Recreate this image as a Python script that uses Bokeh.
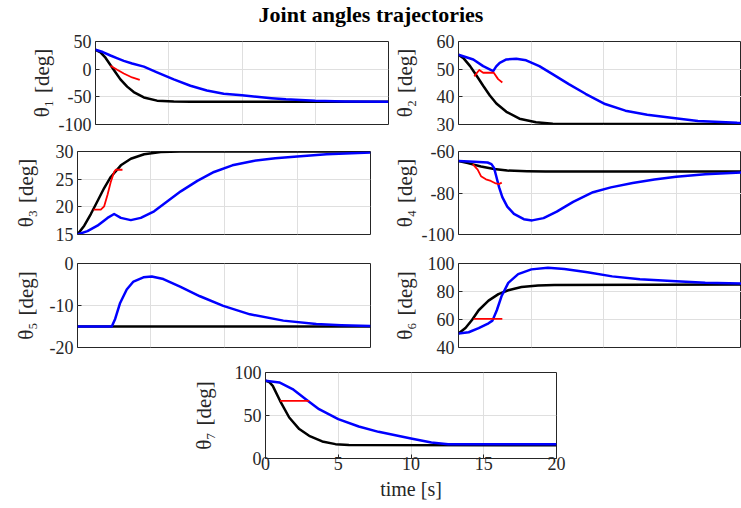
from bokeh.plotting import figure
from bokeh.models import Range1d, FixedTicker, Spacer, Label
from bokeh.layouts import column, row
from bokeh.embed import file_html
from bokeh.resources import INLINE

FONT = "Liberation Serif"

title_text = "Joint angles trajectories"
x_ticks = [0, 5, 10, 15, 20]
x_tick_labels = ["0", "5", "10", "15", "20"]

# ---------- joint 1 ----------
y1_ticks = [-100, -50, 0, 50]
y1_tick_labels = ["-100", "-50", "0", "50"]
t1_ref = [0, 0.34, 0.68, 1.02, 1.36, 1.7, 2.16, 2.61, 3.3, 4.2, 5.34, 6.5, 20]
q1_ref = [35, 30.5, 20.7, 7.5, -5.7, -18.4, -31.6, -41.4, -51.1, -56.9, -58.6, -59, -59]
t1_act = [0, 0.5, 1.02, 1.5, 1.93, 2.5, 3.3, 4.2, 5.34, 6.48, 7.6, 8.75, 10, 11, 12, 13, 15, 17, 20]
q1_act = [35, 31, 24.7, 19.5, 15, 10.3, 4.6, -5.7, -18.4, -29.9, -38.5, -44.3, -47, -50, -52.5, -54.5, -57, -58.3, -59]
t1_red = [1.02, 1.48, 1.93, 2.5, 3.02]
q1_red = [6.3, -1.1, -7.9, -15, -19.5]

# ---------- joint 2 ----------
y2_ticks = [30, 40, 50, 60]
y2_tick_labels = ["30", "40", "50", "60"]
t2_ref = [0, 0.34, 0.8, 1.25, 1.7, 2.16, 2.61, 3.3, 4.2, 5.34, 6.5, 8, 20]
q2_ref = [55.2, 54, 51.1, 47.6, 44, 40.5, 37.6, 34.6, 32.1, 30.8, 30.3, 30.2, 30.2]
t2_act = [0, 1.02, 1.7, 2.39, 2.6, 2.84, 3.3, 3.98, 4.66, 5.57, 6.48, 7.6, 8.75, 10.1, 11.5, 13, 14.66, 16.5, 19.2, 20]
q2_act = [55.2, 53.5, 51.1, 49.3, 51, 52.3, 53.5, 53.8, 53.2, 51.1, 48.2, 44.6, 41.1, 37.4, 35, 33.5, 32.4, 31.3, 30.6, 30.5]
t2_red = [1.09, 1.25, 1.43, 1.7, 2.05, 2.43, 2.73, 3.02]
q2_red = [47.4, 48.5, 49.7, 48.7, 48.7, 48.7, 46.4, 45.2]

# ---------- joint 3 ----------
y3_ticks = [15, 20, 25, 30]
y3_tick_labels = ["15", "20", "25", "30"]
t3_ref = [0, 0.46, 0.91, 1.36, 1.82, 2.27, 2.96, 3.64, 4.55, 5.68, 7, 20]
q3_ref = [15, 16.6, 18.7, 21, 23.4, 25.4, 27.5, 28.7, 29.5, 29.9, 30, 30]
t3_act = [0, 0.68, 1.36, 2.05, 2.5, 2.96, 3.64, 4.32, 5.23, 6.14, 7.05, 8.18, 9.32, 10.57, 12, 13.5, 15, 17, 20]
q3_act = [15, 15.6, 16.6, 18, 18.7, 18, 17.6, 18, 19.2, 21, 22.8, 24.7, 26.3, 27.5, 28.3, 28.8, 29.1, 29.5, 29.8]
t3_red = [1.09, 1.59, 1.82, 2.05, 2.27, 2.5, 2.61, 3.07]
q3_red = [19.5, 19.5, 20.1, 22.2, 24.5, 26.3, 26.7, 26.7]

# ---------- joint 4 ----------
y4_ticks = [-100, -80, -60]
y4_tick_labels = ["-100", "-80", "-60"]
t4_ref = [0, 0.64, 1.55, 2.45, 3.36, 4.72, 6, 20]
q4_ref = [-64.6, -65.6, -67.2, -68.4, -69.2, -69.5, -69.6, -69.6]
t4_act = [0, 1.09, 2.0, 2.27, 2.45, 2.57, 2.8, 3.02, 3.36, 3.82, 4.5, 5.07, 5.86, 6.77, 7.9, 9.27, 10.5, 12, 13.5, 15, 17, 20]
q4_act = [-64.6, -64.9, -65.3, -66.1, -67.9, -71.1, -77.3, -82, -86.6, -90.1, -92.6, -93.2, -92.1, -89, -84.3, -79.6, -77.3, -75.2, -73.5, -72.2, -71, -70]
t4_red = [0.98, 1.32, 1.55, 1.89, 2.23, 2.57, 2.8, 2.98]
q4_red = [-66.1, -68.7, -71.9, -73.4, -74.2, -75.4, -75.7, -75]

# ---------- joint 5 ----------
y5_ticks = [-20, -10, 0]
y5_tick_labels = ["-20", "-10", "0"]
t5_ref = [0, 20]
q5_ref = [-15, -15]
t5_act = [0, 2.34, 2.57, 2.91, 3.36, 3.82, 4.5, 5.07, 5.86, 7.0, 8.36, 9.95, 11.77, 14.05, 16.3, 18, 20]
q5_act = [-15, -15, -13.2, -9.4, -6.2, -4.3, -3.3, -3.1, -3.7, -5.5, -7.8, -10.1, -12.1, -13.6, -14.4, -14.7, -14.9]
t5_red = []
q5_red = []

# ---------- joint 6 ----------
y6_ticks = [40, 60, 80, 100]
y6_tick_labels = ["40", "60", "80", "100"]
t6_ref = [0, 0.48, 0.93, 1.39, 2.07, 2.75, 3.43, 4.34, 5.48, 6.6, 20]
q6_ref = [50, 53.9, 59.7, 66.6, 73.5, 78.1, 80.9, 83.2, 84.3, 84.7, 85]
t6_act = [0, 0.7, 1.39, 2.07, 2.34, 2.64, 2.98, 3.43, 4.11, 5.02, 6.16, 7.3, 8.89, 10.59, 12.5, 15, 17, 20]
q6_act = [50, 50.9, 53.9, 57.3, 59.2, 66.6, 77, 86.2, 92.4, 95.8, 97, 96.1, 93.8, 90.8, 88.7, 87.3, 86.3, 85.5]
t6_red = [1.04, 3.02]
q6_red = [60.5, 60.5]

# ---------- joint 7 ----------
y7_ticks = [0, 50, 100]
y7_tick_labels = ["0", "50", "100"]
t7_ref = [0, 0.25, 0.5, 1.0, 1.63, 2.32, 3.0, 3.9, 4.81, 5.73, 20]
q7_ref = [90.5, 89, 84.5, 67.1, 47.7, 34.2, 26.4, 19.8, 16.7, 15.6, 15.5]
t7_act = [0, 0.95, 1.86, 2.77, 3.68, 5.0, 6.41, 7.77, 10, 11.4, 12.55, 20]
q7_act = [90.5, 88.4, 80.7, 69, 57.4, 45.8, 37.2, 31, 23.3, 18.6, 16.7, 16.5]
t7_red = [1.0, 3.0]
q7_red = [67, 67]


def make_panel(label, yr, yticks, ylabels, t_ref, q_ref, t_act, q_act, t_red, q_red,
               width, height, mbl, mbr, mbt, mbb, x_end, label_standoff, show_x=False):
    p = figure(width=width, height=height,
               x_range=Range1d(0, x_end), y_range=Range1d(yr[0], yr[1]),
               output_backend="svg", toolbar_location=None,
               min_border_left=mbl, min_border_right=mbr,
               min_border_top=mbt, min_border_bottom=mbb)
    p.background_fill_color = "white"
    p.border_fill_color = "white"
    p.outline_line_color = "#262626"
    p.outline_line_width = 1

    p.xgrid.ticker = FixedTicker(ticks=x_ticks)
    p.ygrid.ticker = FixedTicker(ticks=yticks)
    p.xgrid.grid_line_color = "#dfdfdf"
    p.ygrid.grid_line_color = "#dfdfdf"

    ya = p.yaxis[0]
    ya.ticker = FixedTicker(ticks=yticks)
    ya.major_label_overrides = {v: s for v, s in zip(yticks, ylabels)}
    ya.major_label_text_font = FONT
    ya.major_label_text_font_size = "18px"
    ya.major_label_text_color = "#262626"
    ya.major_label_standoff = 4
    ya.major_tick_in = 4
    ya.major_tick_out = 0
    ya.major_tick_line_color = "#262626"
    ya.minor_tick_line_color = None
    ya.axis_line_color = None
    ya.axis_label = label
    ya.axis_label_text_font = FONT
    ya.axis_label_text_font_size = "21px"
    ya.axis_label_text_font_style = "normal"
    ya.axis_label_text_color = "#262626"
    ya.axis_label_standoff = label_standoff

    xa = p.xaxis[0]
    xa.ticker = FixedTicker(ticks=x_ticks)
    if show_x:
        xa.major_label_overrides = {v: s for v, s in zip(x_ticks, x_tick_labels)}
        xa.major_label_text_font = FONT
        xa.major_label_text_font_size = "18px"
        xa.major_label_text_color = "#262626"
        xa.major_label_standoff = -2
        xa.major_tick_in = 4
        xa.major_tick_out = 0
        xa.major_tick_line_color = "#262626"
        xa.minor_tick_line_color = None
        xa.axis_line_color = None
        xa.axis_label = "time [s]"
        xa.axis_label_text_font = FONT
        xa.axis_label_text_font_size = "20px"
        xa.axis_label_text_font_style = "normal"
        xa.axis_label_text_color = "#262626"
        xa.axis_label_standoff = 5
    else:
        xa.visible = False

    p.line(t_ref, q_ref, line_color="black", line_width=2.5, line_join="round")
    p.line(t_act, q_act, line_color="#0000ff", line_width=2.5, line_join="round")
    if len(t_red):
        p.line(t_red, q_red, line_color="#ff0000", line_width=1.8, line_join="round")
    return p


XR = 19.5  # right column is cropped by the window edge, as in the reference
SP = "\u2004"

p1 = make_panel("θ₁" + SP + "[deg]", (-100, 50), y1_ticks, y1_tick_labels, t1_ref, q1_ref, t1_act, q1_act, t1_red, q1_red,
                389, 110, 95, 1, 11, 13, 20, 2)
p2 = make_panel("θ₂" + SP + "[deg]", (30, 60), y2_ticks, y2_tick_labels, t2_ref, q2_ref, t2_act, q2_act, t2_red, q2_red,
                352, 110, 66, 0, 14, 11, XR, 17)
p3 = make_panel("θ₃" + SP + "[deg]", (15, 30), y3_ticks, y3_tick_labels, t3_ref, q3_ref, t3_act, q3_act, t3_red, q3_red,
                389, 111, 77, 19, 14, 12, 20, 15)
p4 = make_panel("θ₄" + SP + "[deg]", (-100, -60), y4_ticks, y4_tick_labels, t4_ref, q4_ref, t4_act, q4_act, t4_red, q4_red,
                352, 111, 66, 0, 11, 14, XR, 2)
p5 = make_panel("θ₅" + SP + "[deg]", (-20, 0), y5_ticks, y5_tick_labels, t5_ref, q5_ref, t5_act, q5_act, t5_red, q5_red,
                389, 112, 77, 19, 15, 11, 20, 9)
p6 = make_panel("θ₆" + SP + "[deg]", (40, 100), y6_ticks, y6_tick_labels, t6_ref, q6_ref, t6_act, q6_act, t6_red, q6_red,
                352, 112, 66, 0, 12, 13, XR, 8)
p7 = make_panel("θ₇" + SP + "[deg]", (0, 100), y7_ticks, y7_tick_labels, t7_ref, q7_ref, t7_act, q7_act, t7_red, q7_red,
                380, 143, 75, 12, 12, 45, 20, 16, show_x=True)

# title strip
tp = figure(width=741, height=27, x_range=Range1d(0, 1), y_range=Range1d(0, 1),
            output_backend="svg", toolbar_location=None, min_border=0)
tp.axis.visible = False
tp.grid.visible = False
tp.outline_line_color = None
tp.background_fill_color = "white"
tp.border_fill_color = "white"
tp.add_layout(Label(x=0.5, y=0.463, text=title_text, text_align="center", text_baseline="middle",
                    text_font=FONT, text_font_style="bold", text_font_size="22px", text_color="black"))

layout = column(tp,
                row(p1, p2),
                row(p3, p4),
                row(p5, p6),
                row(Spacer(width=188, height=143), p7))

open("out.html", "w").write(file_html(layout, INLINE))
